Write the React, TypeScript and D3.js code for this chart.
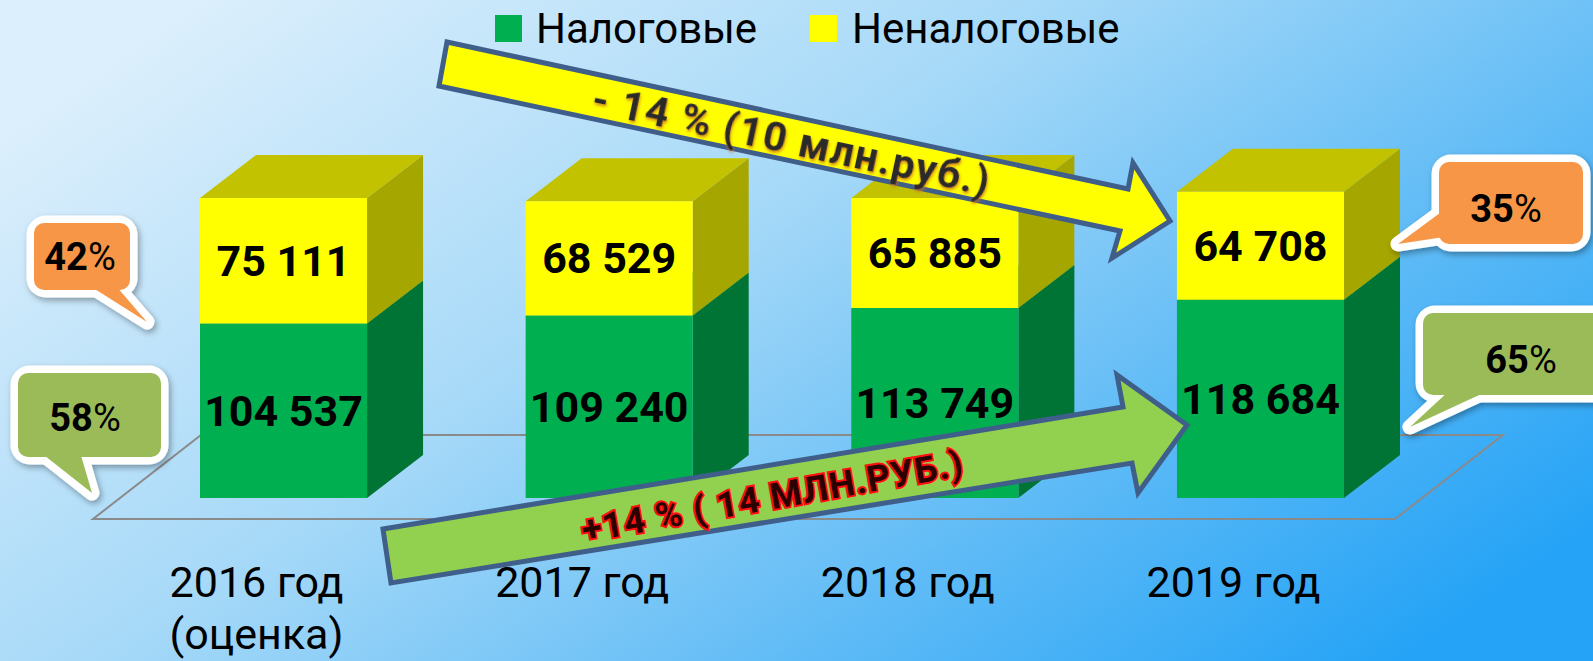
import React from "react";
import * as d3 from "d3";

// revenue structure, thousand rubles
const categories = ["2016 год", "2017 год", "2018 год", "2019 год"];
const categoryNotes = ["(оценка)", "", "", ""];
const taxRevenue = [104537, 109240, 113749, 118684];
const nonTaxRevenue = [75111, 68529, 65885, 64708];
const seriesNames = ["Налоговые", "Неналоговые"];
const shareLabels = ["42", "58", "35", "65"];
const trendLabels = ["- 14 % (10 млн.руб.)", "+14 % ( 14 МЛН.РУБ.)"];

const W = 1593;
const H = 661;
const FONT = "Roboto, 'Noto Sans', sans-serif";

const colors = {
  taxFront: "#00B050",
  taxSide: "#007434",
  taxTop: "#008A3E",
  nonFront: "#FFFF00",
  nonSide: "#A6A600",
  nonTop: "#C2C200",
  orange: "#F79646",
  olive: "#9BBB59",
  arrowStroke: "#3F5F8A",
  arrowYellow: "#FFFF00",
  arrowGreen: "#92D050",
};

const fmt = d3.formatLocale({ decimal: ",", thousands: " ", grouping: [3], currency: ["", ""] }).format(",");

const x = d3.scaleBand<string>().domain(categories).range([200, 1344]).paddingInner(0.487).paddingOuter(0);
const y = d3.scaleLinear().domain([0, 200000]).range([498, 164]);
const DX = 56;
const DY = -43;

const line = d3.line();

type Pt = [number, number];

function box(x0: number, x1: number, yTop: number, yBot: number, front: string, side: string, top: string, key: string) {
  const frontPts: Pt[] = [[x0, yTop], [x1, yTop], [x1, yBot], [x0, yBot]];
  const sidePts: Pt[] = [[x1, yTop], [x1 + DX, yTop + DY], [x1 + DX, yBot + DY], [x1, yBot]];
  const topPts: Pt[] = [[x0, yTop], [x0 + DX, yTop + DY], [x1 + DX, yTop + DY], [x1, yTop]];
  return (
    <g key={key}>
      <path d={line(sidePts) + "Z"} fill={side} />
      <path d={line(topPts) + "Z"} fill={top} />
      <path d={line(frontPts) + "Z"} fill={front} />
    </g>
  );
}

function Callout({ rect, tail, fill, label, tx, ty }: { rect: [number, number, number, number]; tail: Pt[]; fill: string; label: string; tx: number; ty: number }) {
  const [rx0, ry0, rx1, ry1] = rect;
  return (
    <g>
      <g filter="url(#shadow)">
        <rect x={rx0} y={ry0} width={rx1 - rx0} height={ry1 - ry0} rx={12} fill="#fff" stroke="#fff" strokeWidth={15} strokeLinejoin="round" />
        <path d={line(tail) + "Z"} fill="#fff" stroke="#fff" strokeWidth={15} strokeLinejoin="round" />
      </g>
      <rect x={rx0} y={ry0} width={rx1 - rx0} height={ry1 - ry0} rx={10} fill={fill} />
      <path d={line(tail) + "Z"} fill={fill} />
      <text x={tx} y={ty} textAnchor="middle" dominantBaseline="central" fontFamily={FONT} fontSize={38} fontWeight={700} fill="#000">
        {label}
        <tspan fontWeight={400}>%</tspan>
      </text>
    </g>
  );
}

export default function App() {
  const bw = x.bandwidth();

  const floorFront = y(0) + 21;
  const floorBack = floorFront - 84;
  const floor: Pt[] = [[93, floorFront], [1395, floorFront], [1503, floorBack], [201, floorBack]];

  const yellowArrow: Pt[] = [[447, 42], [1128, 189], [1133, 163], [1170, 221], [1112, 258], [1120, 231], [439, 86]];
  const greenArrow: Pt[] = [[383, 529], [1123, 407], [1117, 375], [1187, 425], [1138, 493], [1132, 463], [391, 583]];

  return (
    <svg width={W} height={H} style={{ position: "fixed", left: 0, top: 0 }} fontFamily={FONT}>
      <defs>
        <linearGradient id="bg" x1="0" y1="0.2" x2="1" y2="0.8">
          <stop offset="0" stopColor="#DCEFFC" />
          <stop offset="0.4" stopColor="#A6D9F8" />
          <stop offset="0.72" stopColor="#5FBBF6" />
          <stop offset="1" stopColor="#25A3F6" />
        </linearGradient>
        <filter id="shadow" x="-20%" y="-20%" width="140%" height="150%">
          <feDropShadow dx="2" dy="3" stdDeviation="3" floodColor="#000" floodOpacity="0.35" />
        </filter>
        <filter id="glowOrange" x="-10%" y="-30%" width="120%" height="160%">
          <feDropShadow dx="1" dy="2" stdDeviation="1.5" floodColor="#C87020" floodOpacity="0.8" />
        </filter>
      </defs>

      <rect width={W} height={H} fill="url(#bg)" />

      {/* floor */}
      <path d={line(floor) + "Z"} fill="none" stroke="#8A8A8A" strokeWidth={2} />

      {/* bars */}
      {categories.map((c, i) => {
        const x0 = x(c)!;
        const x1 = x0 + bw;
        const yTax = y(taxRevenue[i]);
        const yAll = y(taxRevenue[i] + nonTaxRevenue[i]);
        return (
          <g key={c}>
            {box(x0, x1, yTax, y(0), colors.taxFront, colors.taxSide, colors.taxTop, "t")}
            {box(x0, x1, yAll, yTax, colors.nonFront, colors.nonSide, colors.nonTop, "n")}
            <text x={x0 + bw / 2} y={(yTax + y(0)) / 2} textAnchor="middle" dominantBaseline="central" fontSize={43} fontWeight={700}>
              {fmt(taxRevenue[i])}
            </text>
            <text x={x0 + bw / 2} y={(yAll + yTax) / 2} textAnchor="middle" dominantBaseline="central" fontSize={43} fontWeight={700}>
              {fmt(nonTaxRevenue[i])}
            </text>
            <text x={x0 + bw / 2 - 27} y={597} textAnchor="middle" fontSize={43}>
              {c}
            </text>
            {categoryNotes[i] && (
              <text x={x0 + bw / 2 - 27} y={649} textAnchor="middle" fontSize={43}>
                {categoryNotes[i]}
              </text>
            )}
          </g>
        );
      })}

      {/* legend */}
      <rect x={495} y={15} width={27} height={27} fill={colors.taxFront} />
      <text x={536} y={43} fontSize={42}>{seriesNames[0]}</text>
      <rect x={810} y={15} width={27} height={27} fill={colors.nonFront} />
      <text x={852} y={43} fontSize={42}>{seriesNames[1]}</text>

      {/* callouts */}
      <Callout rect={[34, 223, 130, 290]} tail={[[90, 286], [116, 286], [147, 322]]} fill={colors.orange} label={shareLabels[0]} tx={80} ty={257} />
      <Callout rect={[18, 373, 161, 457]} tail={[[40, 452], [80, 452], [92, 493]]} fill={colors.olive} label={shareLabels[1]} tx={85} ty={418} />
      <Callout rect={[1439, 162, 1583, 244]} tail={[[1444, 210], [1444, 237], [1398, 244]]} fill={colors.orange} label={shareLabels[2]} tx={1506} ty={209} />
      <Callout rect={[1423, 313, 1610, 395]} tail={[[1450, 390], [1490, 390], [1410, 427]]} fill={colors.olive} label={shareLabels[3]} tx={1521} ty={360} />

      {/* trend arrows */}
      <path d={line(yellowArrow) + "Z"} fill={colors.arrowYellow} stroke={colors.arrowStroke} strokeWidth={5} strokeLinejoin="miter" />
      <text
        x={0}
        y={0}
        transform="translate(791,140) rotate(12)"
        textAnchor="middle"
        dominantBaseline="central"
        fontSize={41}
        fontWeight={700}
        fill="#2A2A2A"
        textLength={405}
        filter="url(#glowOrange)"
      >
        {trendLabels[0]}
      </text>

      <path d={line(greenArrow) + "Z"} fill={colors.arrowGreen} stroke={colors.arrowStroke} strokeWidth={5} strokeLinejoin="miter" />
      <text
        x={0}
        y={0}
        transform="translate(772,497) rotate(-10)"
        textAnchor="middle"
        dominantBaseline="central"
        fontSize={36}
        fontWeight={700}
        fill="#2A0000"
        stroke="#FF1010"
        strokeWidth={4}
        paintOrder="stroke"
        textLength={386}
      >
        {trendLabels[1]}
      </text>
    </svg>
  );
}
